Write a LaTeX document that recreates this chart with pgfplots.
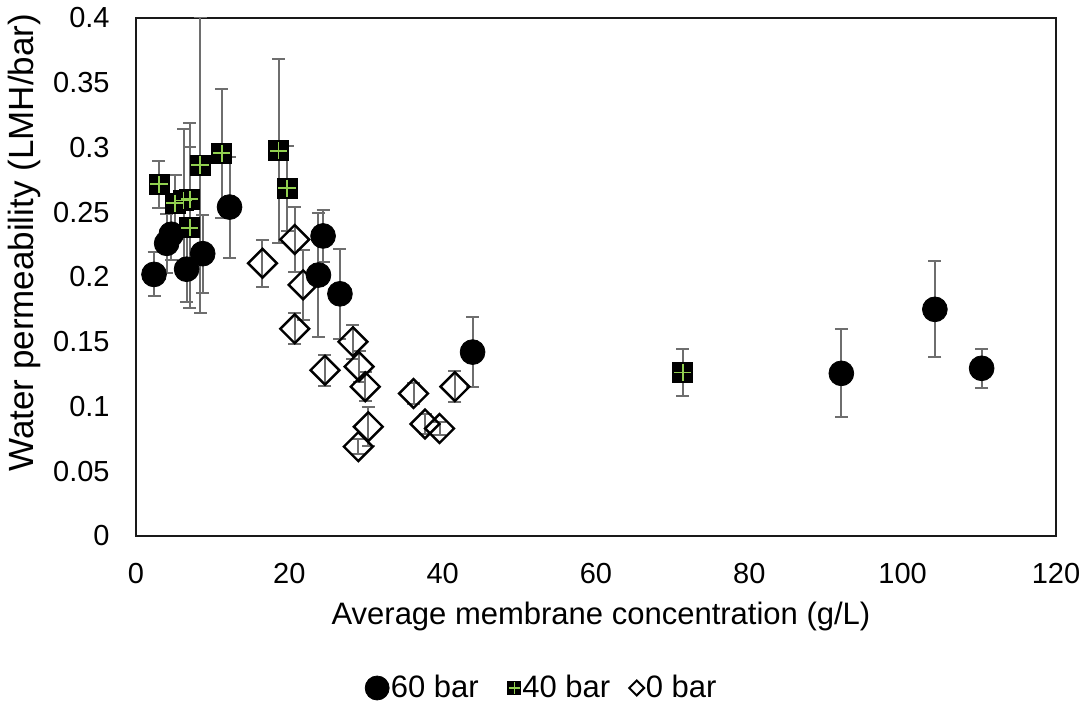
\documentclass[border=0pt]{standalone}
\usepackage{pgfplots}
\usepackage{pgfplotstable}
\pgfplotsset{compat=1.18}
\usepackage{fontspec}
\setmainfont{Liberation Sans}
\definecolor{errgray}{HTML}{6E6E6E}
\definecolor{crossgreen}{HTML}{92D050}

\pgfplotsset{
  circlelegend/.style={legend image code/.code={\draw[##1, mark size=6pt] plot coordinates {(0pt,0pt)};}},
  squarelegend/.style={legend image code/.code={\path[draw=none, fill=none] (-8.25pt,0pt) rectangle (3.25pt,0.1pt);
     \draw[##1, mark size=3.25pt] plot coordinates {(0pt,0pt)};
     \draw[only marks, mark=+, mark size=2.8pt, mark options={crossgreen, line width=0.6pt}] plot coordinates {(0pt,0pt)};}},
  diamondlegend/.style={legend image code/.code={\draw[##1] plot coordinates {(0pt,0pt)};}},
}

\pgfplotstableread{
x y e
2.35 0.202 0.017
4.0 0.226 0.023
4.6 0.233 0.020
6.6 0.206 0.025
8.7 0.218 0.030
12.2 0.254 0.039
23.8 0.2015 0.048
24.4 0.2317 0.020
26.6 0.187 0.035
43.9 0.142 0.027
92.0 0.1256 0.034
104.2 0.175 0.037
110.3 0.1295 0.015
}\sixtybar

\pgfplotstableread{
x y e
3.0 0.2715 0.018
5.1 0.257 0.022
6.2 0.259 0.055
7.0 0.260 0.059
7.0 0.238 0.062
8.35 0.2865 0.114
11.2 0.2955 0.050
18.6 0.2976 0.071
19.7 0.2685 0.033
71.3 0.1262 0.018
}\fortybar

\pgfplotstableread{
x y e
16.5 0.2106 0.018
20.7 0.229 0.025
21.8 0.194 0.027
20.7 0.160 0.012
24.65 0.128 0.012
28.3 0.150 0.013
29.1 0.1308 0.012
29.9 0.1153 0.011
30.3 0.0844 0.015
29.0 0.069 0.006
36.2 0.110 0.008
37.7 0.0865 0.008
39.6 0.083 0.005
41.6 0.1153 0.012
}\zerobar

\begin{document}
\begin{tikzpicture}
\begin{axis}[
  scale only axis, width=460pt, height=259pt,
  xmin=0, xmax=120, ymin=0, ymax=0.4,
  xtick={0,20,40,60,80,100,120},
  xticklabels={0,20,40,60,80,100,120},
  ytick={0,0.05,0.1,0.15,0.2,0.25,0.3,0.35,0.4},
  yticklabels={0,0.05,0.1,0.15,0.2,0.25,0.3,0.35,0.4},
  major tick length=0pt,
  axis line style={line width=1.3pt, black!90},
  tick label style={font=\fontsize{14.5}{17}\selectfont},
  yticklabel style={anchor=east, inner sep=0pt, xshift=-13pt},
  xticklabel style={anchor=base, inner sep=0pt, yshift=-24pt},
  xlabel={Average membrane concentration (g/L)},
  ylabel={Water permeability (LMH/bar)},
  every axis x label/.style={at={([yshift=-44.5pt]rel axis cs:0.5054,0)}, anchor=base, font=\fontsize{15.5}{18}\selectfont},
  every axis y label/.style={at={([xshift=-56pt]rel axis cs:0,0.566)}, anchor=center, rotate=90, font=\fontsize{17.5}{21}\selectfont},
  legend style={at={([yshift=-76pt]rel axis cs:0.44,0)}, anchor=center, draw=none, fill=none,
    font=\fontsize{15.5}{18}\selectfont, nodes={inner sep=0pt},
    /tikz/every odd column/.append style={column sep=0.8pt},
    /tikz/every even column/.append style={column sep=9.5pt}},
  legend columns=-1,
  error bars/error bar style={errgray, line width=1pt},
  error bars/error mark options={errgray, line width=1pt, mark size=3.25pt, rotate=90},
]
% 0 bar (drawn first, legend entry added later)
\addplot+[only marks, forget plot, mark=square, mark size=5.1pt,
  mark options={draw=black, fill=none, line width=1.2pt, rotate=45},
  error bars/.cd, y dir=both, y explicit]
  table[x=x, y=y, y error=e] {\zerobar};
% 60 bar
\addplot+[only marks, mark=*, mark size=6.2pt,
  mark options={draw=black, fill=black}, circlelegend,
  error bars/.cd, y dir=both, y explicit]
  table[x=x, y=y, y error=e] {\sixtybar};
\addlegendentry{60 bar}
% 40 bar
\addplot+[only marks, mark=square*, mark size=5pt,
  mark options={draw=black, fill=black}, squarelegend,
  error bars/.cd, y dir=both, y explicit]
  table[x=x, y=y, y error=e] {\fortybar};
\addlegendentry{40 bar}
\addplot+[only marks, forget plot, mark=+, mark size=4.3pt,
  mark options={draw=crossgreen, line width=0.9pt}]
  table[x=x, y=y] {\fortybar};
\addlegendimage{only marks, mark=square, mark size=2.65pt, mark options={draw=black, fill=none, line width=1pt, rotate=45}, diamondlegend}
\addlegendentry{0 bar}
\end{axis}
\pgfresetboundingbox
\path[use as bounding box] ([shift={(-68pt,-84pt)}]current axis.south west) rectangle ([shift={(15.5pt,9pt)}]current axis.north east);
\end{tikzpicture}
\end{document}
